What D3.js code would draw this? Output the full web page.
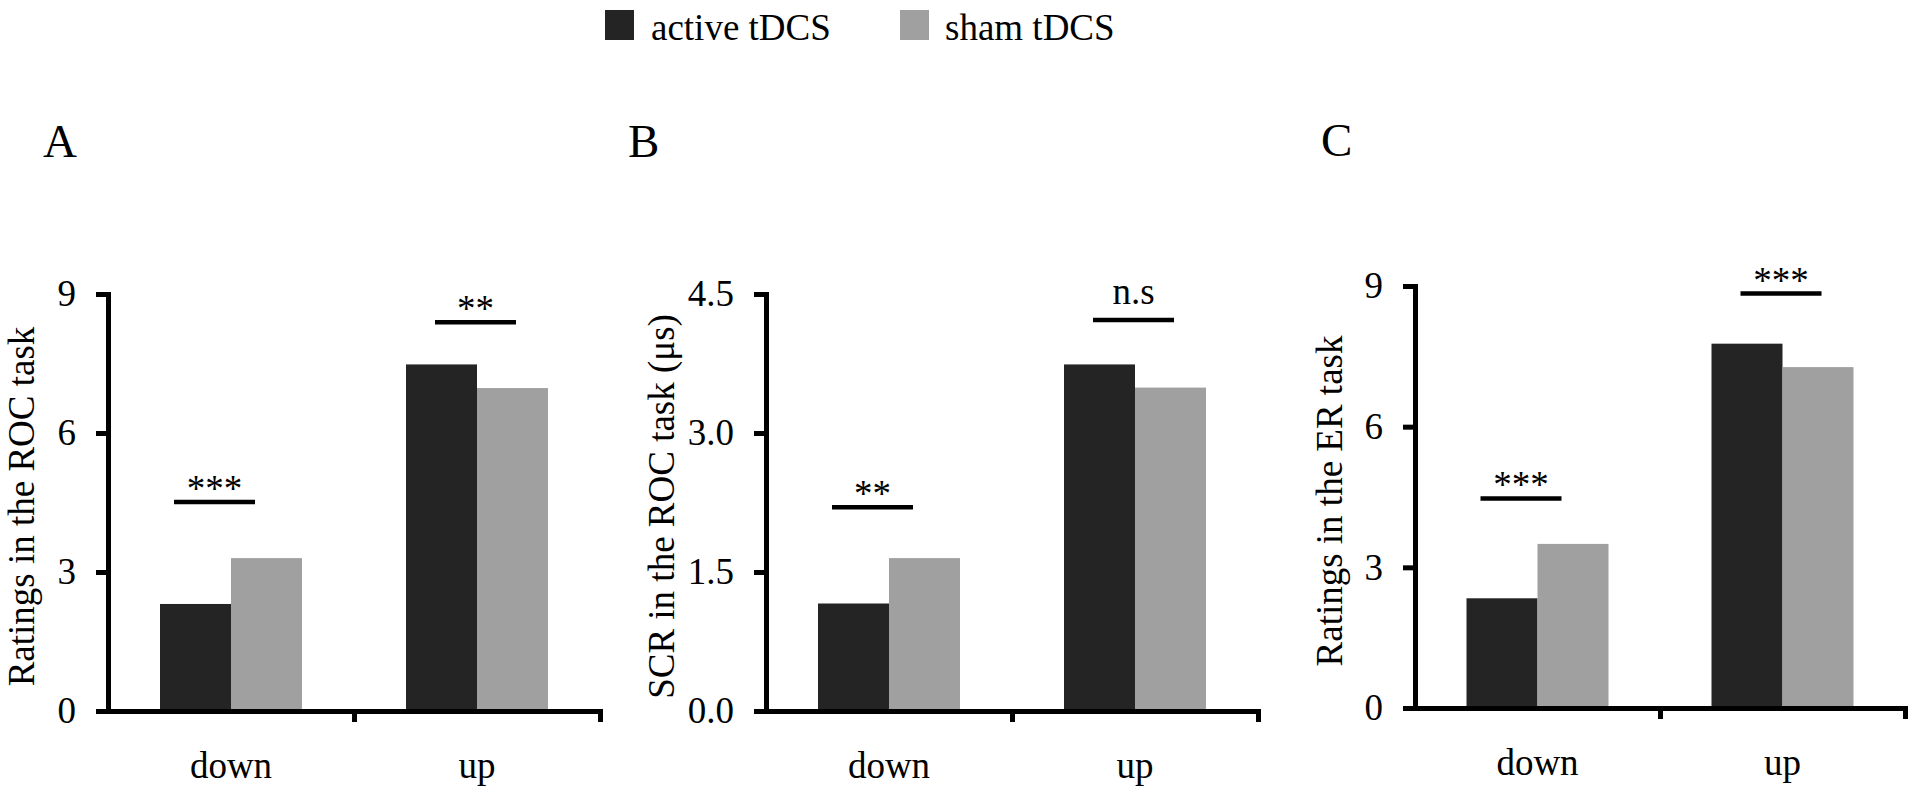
<!DOCTYPE html>
<html><head><meta charset="utf-8">
<script src="https://cdn.jsdelivr.net/npm/d3@7"></script>
<style>
body{margin:0;background:#fff;}
svg{display:block;}
text{font-family:"Liberation Serif","Times New Roman",serif;fill:#000;}
</style>
</head><body>
<svg id="chart" width="1920" height="792"></svg>
<script>
// ---------- data ----------
const categories = ["down", "up"];
const seriesNames = ["active tDCS", "sham tDCS"];
const panelLetters = ["A", "B", "C"];
const yTitles = ["Ratings in the ROC task", "SCR in the ROC task (μs)", "Ratings in the ER task"];
const activeA = [2.31, 7.48];
const shamA = [3.30, 6.97];
const activeB = [1.16, 3.74];
const shamB = [1.65, 3.49];
const activeC = [2.34, 7.77];
const shamC = [3.50, 7.27];
const yTicksA = [0, 3, 6, 9];
const yTicksB = [0, 1.5, 3.0, 4.5];
const yTicksC = [0, 3, 6, 9];
const tickFormats = ["d", ".1f", "d"];
const sigLabelsA = ["***", "**"];
const sigLabelsB = ["**", "n.s"];
const sigLabelsC = ["***", "***"];
const sigLevelsA = [4.51, 8.39];
const sigLevelsB = [2.20, 4.22];
const sigLevelsC = [4.47, 8.84];

// ---------- layout / style ----------
const colors = ["#242424", "#a0a0a0"];
const layout = [
  {x0:108, x1:600, yTop:294, yBottom:711, letterX:43, letterY:157, titleGap:74},
  {x0:766, x1:1258, yTop:294, yBottom:711, letterX:628, letterY:157, titleGap:92},
  {x0:1415, x1:1905, yTop:286, yBottom:708, letterX:1321, letterY:156, titleGap:73}
];
const halfGroup = 71;
const sigOffsets = [[-57, 24], [-42, 39]];
const axisW = 5;
const fontSize = 37;

const panels = [
  {active: activeA, sham: shamA, ticks: yTicksA, sigLabels: sigLabelsA, sigLevels: sigLevelsA},
  {active: activeB, sham: shamB, ticks: yTicksB, sigLabels: sigLabelsB, sigLevels: sigLevelsB},
  {active: activeC, sham: shamC, ticks: yTicksC, sigLabels: sigLabelsC, sigLevels: sigLevelsC}
];

const svg = d3.select("#chart");

// legend
const legendX = [605, 900];
const legendTextX = [651, 945];
seriesNames.forEach((s, j) => {
  svg.append("rect").attr("x", legendX[j]).attr("y", 10).attr("width", 29).attr("height", 30)
    .attr("fill", colors[j]);
  svg.append("text").attr("x", legendTextX[j]).attr("y", 40)
    .style("font-size", fontSize + "px").text(s);
});

panels.forEach((p, k) => {
  const L = layout[k];
  const g = svg.append("g");
  const y = d3.scaleLinear().domain([0, d3.max(p.ticks)]).range([L.yBottom, L.yTop]);
  const xBand = d3.scaleBand().domain(categories).range([L.x0, L.x1]).padding(0);
  const xSeries = d3.scaleBand().domain(seriesNames).range([-halfGroup, halfGroup]).padding(0);
  const vals = [p.active, p.sham];

  // bars
  categories.forEach((c, i) => {
    const cx = xBand(c) + xBand.bandwidth() / 2;
    seriesNames.forEach((s, j) => {
      g.append("rect")
        .attr("x", cx + xSeries(s))
        .attr("width", xSeries.bandwidth())
        .attr("y", y(vals[j][i]))
        .attr("height", y(0) - y(vals[j][i]))
        .attr("fill", colors[j]);
    });
    // significance
    const ly = y(p.sigLevels[i]);
    const off = sigOffsets[i];
    g.append("line").attr("x1", cx + off[0]).attr("x2", cx + off[1])
      .attr("y1", ly).attr("y2", ly).attr("stroke", "#000").attr("stroke-width", 4.5);
    const lab = p.sigLabels[i];
    g.append("text").attr("x", cx + (off[0] + off[1]) / 2)
      .attr("y", ly - (lab === "n.s" ? 16 : 1))
      .attr("text-anchor", "middle").style("font-size", fontSize + "px").text(lab);
  });

  // y axis
  const yAxis = d3.axisLeft(y).tickValues(p.ticks).tickSize(12).tickSizeOuter(0)
    .tickPadding(20).tickFormat(d3.format(tickFormats[k]));
  const ya = g.append("g").attr("transform", `translate(${L.x0},0)`).call(yAxis);
  ya.select(".domain").attr("stroke", "#000").attr("stroke-width", axisW).attr("stroke-linecap", "square");
  ya.selectAll(".tick line").attr("stroke", "#000").attr("stroke-width", axisW);
  ya.selectAll(".tick text").style("font-size", fontSize + "px")
    .style("font-family", '"Liberation Serif","Times New Roman",serif').attr("fill", "#000");

  // x axis line + boundary ticks
  const xLin = d3.scaleLinear().domain([0, categories.length]).range([L.x0, L.x1]);
  const xAxis = d3.axisBottom(xLin).tickValues(d3.range(1, categories.length + 1))
    .tickSize(11).tickSizeOuter(0).tickFormat("");
  const xa = g.append("g").attr("transform", `translate(0,${L.yBottom})`).call(xAxis);
  xa.select(".domain").attr("stroke", "#000").attr("stroke-width", axisW).attr("stroke-linecap", "square");
  xa.selectAll(".tick line").attr("stroke", "#000").attr("stroke-width", axisW);

  // category labels
  const xCat = d3.axisBottom(xBand).tickSize(0).tickPadding(0);
  const xc = g.append("g").attr("transform", `translate(0,${L.yBottom})`).call(xCat);
  xc.select(".domain").remove();
  xc.selectAll(".tick text").attr("y", 67).attr("dy", 0)
    .style("font-size", fontSize + "px")
    .style("font-family", '"Liberation Serif","Times New Roman",serif').attr("fill", "#000");

  // y title
  g.append("text")
    .attr("transform", `translate(${L.x0 - L.titleGap},${(L.yTop + L.yBottom) / 2 + 4}) rotate(-90)`)
    .attr("text-anchor", "middle").style("font-size", fontSize + "px").text(yTitles[k]);

  // panel letter
  g.append("text").attr("x", L.letterX).attr("y", L.letterY)
    .style("font-size", "47px").text(panelLetters[k]);
});
</script>
</body></html>
